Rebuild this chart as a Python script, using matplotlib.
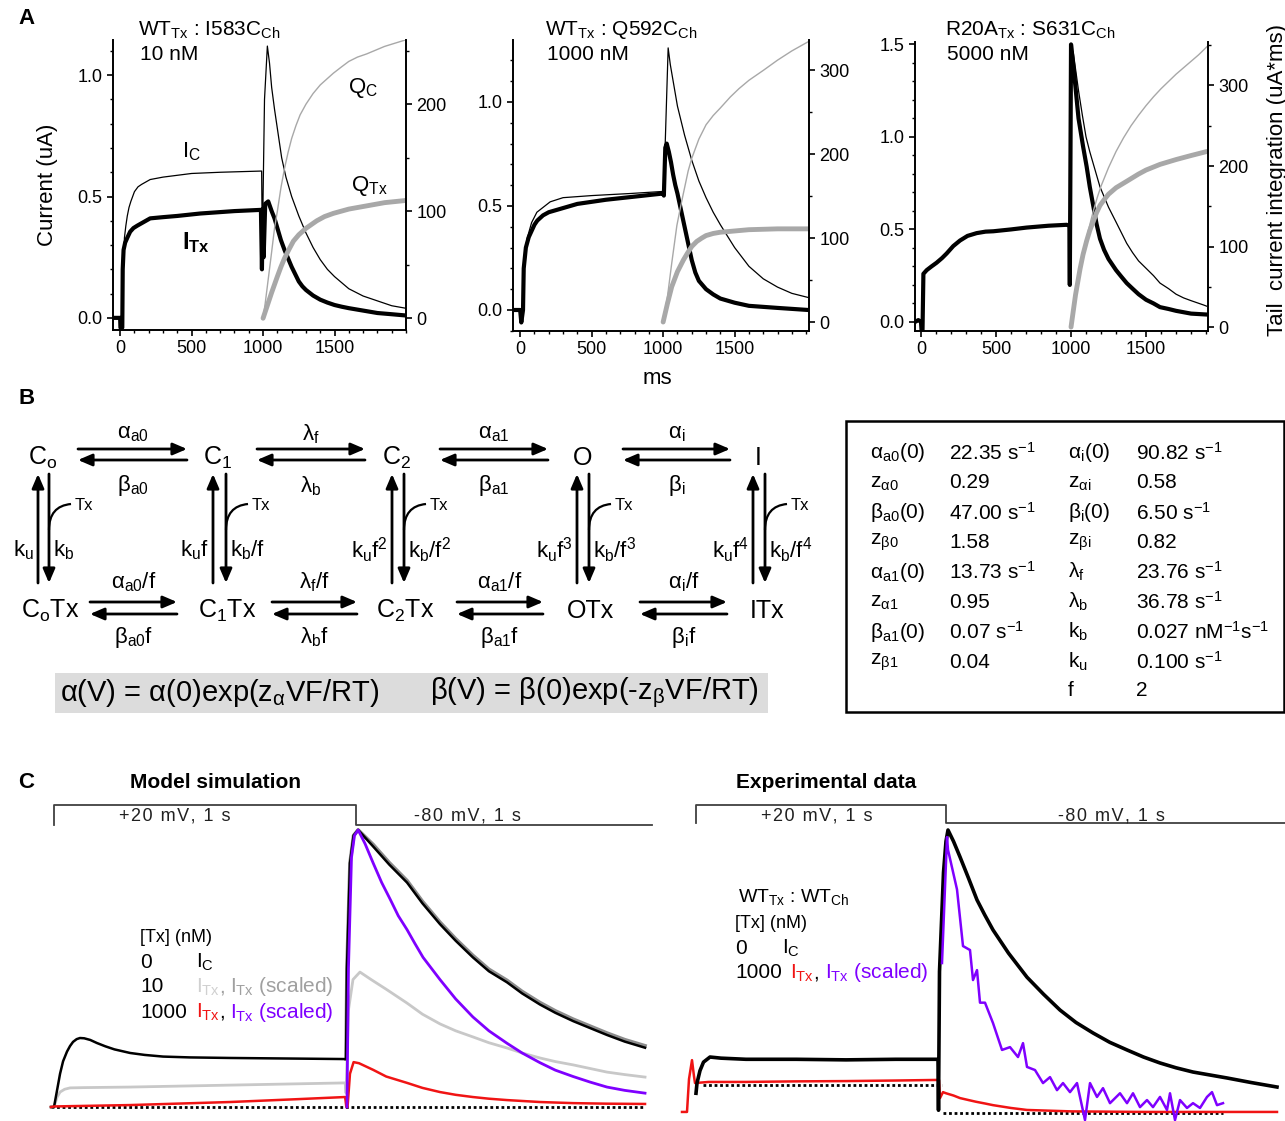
import matplotlib
matplotlib.use('Agg')
import matplotlib.pyplot as plt
from matplotlib.patches import Rectangle, PathPatch
from matplotlib.path import Path
from matplotlib.ticker import MultipleLocator, FormatStrFormatter

plt.rcParams['font.family'] = ['Liberation Sans', 'DejaVu Sans']
plt.rcParams['mathtext.fontset'] = 'custom'
plt.rcParams['mathtext.rm'] = 'Liberation Sans'
plt.rcParams['mathtext.it'] = 'Liberation Sans'
plt.rcParams['mathtext.bf'] = 'Liberation Sans:bold'
plt.rcParams['mathtext.default'] = 'regular'

# ---------------- panel A data: time (ms), current (uA), charge (uA*ms) ----
a1_ic_t = [-45, 0, 18, 22, 30, 40, 50, 62, 75, 100, 125, 150, 210, 300, 500, 700, 990, 996, 1000,
           1010, 1030, 1045, 1060, 1080, 1100, 1130, 1160, 1200, 1250, 1300, 1350, 1400, 1450,
           1500, 1550, 1600, 1650, 1700, 1750, 1800, 1900, 1995]
a1_ic_v = [0.0, 0.0, 0.0, 0.2, 0.33, 0.38, 0.42, 0.455, 0.48, 0.52, 0.54, 0.55, 0.57, 0.58, 0.595,
           0.6, 0.605, 0.2, 0.5, 0.9, 1.12, 1.05, 0.95, 0.86, 0.78, 0.66, 0.58, 0.5, 0.42, 0.35,
           0.29, 0.24, 0.2, 0.17, 0.145, 0.12, 0.105, 0.09, 0.08, 0.07, 0.05, 0.04]
a1_itx_t = [-45, 0, 2, 15, 18, 24, 35, 50, 70, 93, 120, 150, 210, 300, 400, 560, 800, 985, 992,
            998, 1004, 1015, 1036, 1060, 1080, 1100, 1125, 1150, 1175, 1200, 1225, 1250, 1275,
            1300, 1350, 1400, 1450, 1500, 1550, 1600, 1700, 1800, 1900, 1995]
a1_itx_v = [0.0, 0.0, -0.04, -0.04, 0.2, 0.28, 0.31, 0.33, 0.355, 0.37, 0.38, 0.39, 0.41, 0.415,
            0.42, 0.43, 0.44, 0.445, 0.2, 0.45, 0.25, 0.47, 0.48, 0.44, 0.41, 0.37, 0.32, 0.28,
            0.245, 0.21, 0.18, 0.15, 0.13, 0.115, 0.092, 0.075, 0.063, 0.053, 0.046, 0.04, 0.03,
            0.02, 0.015, 0.01]
a1_qc_t = [1000, 1015, 1030, 1045, 1060, 1080, 1100, 1125, 1150, 1175, 1200, 1230, 1259, 1300,
           1350, 1400, 1450, 1492, 1550, 1600, 1660, 1725, 1850, 1995]
a1_qc_v = [0, 14, 30, 46, 62, 84, 100, 122, 140, 155, 168, 180, 190, 200, 210, 218, 224, 229, 235,
           240, 244, 247, 254, 260]
a1_qtx_t = [1000, 1030, 1060, 1100, 1125, 1150, 1180, 1212, 1250, 1300, 1375, 1430, 1492, 1600,
            1725, 1850, 1995]
a1_qtx_v = [0, 12, 24, 39, 48, 56, 64, 72, 78, 84, 91, 95, 98, 102, 105, 108, 110]

a2_ic_t = [-45, 0, 8, 20, 30, 47, 80, 117, 210, 300, 500, 770, 1000, 1010, 1035, 1050, 1070, 1100,
           1125, 1150, 1175, 1200, 1250, 1300, 1350, 1400, 1450, 1500, 1550, 1600, 1650, 1700,
           1750, 1800, 1900, 2015]
a2_ic_v = [0.0, 0.0, -0.05, 0.0, 0.25, 0.34, 0.42, 0.47, 0.52, 0.54, 0.55, 0.56, 0.57, 0.7, 1.26,
           1.18, 1.1, 0.98, 0.91, 0.84, 0.78, 0.72, 0.62, 0.54, 0.47, 0.41, 0.355, 0.3, 0.255,
           0.21, 0.18, 0.15, 0.13, 0.11, 0.08, 0.06]
a2_itx_t = [-45, 0, 8, 20, 25, 40, 60, 80, 100, 120, 160, 200, 300, 400, 600, 800, 1000, 1005,
            1015, 1025, 1040, 1055, 1070, 1085, 1100, 1125, 1150, 1175, 1200, 1225, 1250, 1275,
            1300, 1350, 1400, 1500, 1600, 1800, 2015]
a2_itx_v = [0.0, 0.0, -0.06, 0.0, 0.2, 0.3, 0.35, 0.38, 0.41, 0.43, 0.455, 0.47, 0.49, 0.51, 0.53,
            0.545, 0.56, 0.55, 0.78, 0.8, 0.76, 0.71, 0.65, 0.6, 0.56, 0.48, 0.4, 0.32, 0.24,
            0.18, 0.14, 0.12, 0.1, 0.075, 0.055, 0.035, 0.02, 0.01, 0.0]
a2_qc_t = [1000, 1030, 1060, 1096, 1125, 1150, 1175, 1200, 1250, 1300, 1350, 1400, 1469, 1530,
           1600, 1702, 1800, 1900, 2015]
a2_qc_v = [0, 30, 70, 115, 140, 160, 180, 195, 218, 235, 246, 255, 268, 278, 288, 300, 312, 323, 334]
a2_qtx_t = [1000, 1030, 1060, 1100, 1142, 1170, 1200, 1235, 1270, 1300, 1350, 1400, 1469, 1600,
            1800, 2015]
a2_qtx_v = [0, 22, 42, 60, 74, 82, 90, 96, 100, 103, 105.5, 107, 108, 110, 111, 111]

a3_itx_t = [-40, -18, 0, 4, 10, 16, 38, 70, 104, 140, 171, 215, 260, 310, 371, 430, 482, 600, 704,
            850, 971, 989, 992, 1000, 1020, 1050, 1080, 1104, 1125, 1150, 1170, 1193, 1220, 1250,
            1275, 1300, 1335, 1371, 1410, 1450, 1500, 1550, 1593, 1650, 1700, 1800, 1905]
a3_itx_v = [0.0, 0.01, 0.0, -0.05, -0.05, 0.26, 0.28, 0.3, 0.32, 0.345, 0.37, 0.41, 0.44, 0.465,
            0.48, 0.488, 0.49, 0.5, 0.51, 0.52, 0.525, 0.52, 0.2, 1.5, 1.35, 1.1, 0.95, 0.84, 0.73,
            0.62, 0.53, 0.45, 0.39, 0.34, 0.31, 0.28, 0.245, 0.21, 0.18, 0.15, 0.12, 0.1, 0.08,
            0.07, 0.06, 0.045, 0.04]
a3_ic_t = [989, 1005, 1016, 1050, 1075, 1100, 1125, 1150, 1193, 1250, 1300, 1371, 1410, 1450,
           1500, 1550, 1593, 1650, 1700, 1750, 1800, 1882, 1905]
a3_ic_v = [0.52, 1.4, 1.45, 1.25, 1.12, 1.0, 0.92, 0.85, 0.73, 0.62, 0.54, 0.425, 0.375, 0.33,
           0.29, 0.25, 0.21, 0.18, 0.15, 0.13, 0.115, 0.092, 0.085]
a3_qc_t = [1000, 1025, 1050, 1075, 1100, 1125, 1150, 1175, 1200, 1250, 1300, 1350, 1400, 1450,
           1500, 1550, 1600, 1650, 1700, 1750, 1800, 1850, 1905]
a3_qc_v = [0, 32, 62, 86, 108, 127, 145, 161, 175, 198, 218, 235, 250, 263, 275, 286, 296, 305,
           314, 322, 330, 338, 348]
a3_qtx_t = [1000, 1030, 1060, 1080, 1104, 1125, 1150, 1170, 1193, 1220, 1250, 1300, 1371, 1450,
            1500, 1593, 1700, 1800, 1905]
a3_qtx_v = [0, 40, 72, 90, 107, 120, 132, 142, 151, 158, 165, 173, 181, 190, 195, 202, 208, 213, 218]

a_titles = ['WT$_{Tx}$ : I583C$_{Ch}$', 'WT$_{Tx}$ : Q592C$_{Ch}$', 'R20A$_{Tx}$ : S631C$_{Ch}$']
a_conc = ['10 nM', '1000 nM', '5000 nM']

# ---------------- panel B: model parameters ----
tab_left_names = ['α$_{a0}$(0)', 'z$_{α0}$', 'β$_{a0}$(0)', 'z$_{β0}$', 'α$_{a1}$(0)', 'z$_{α1}$',
                  'β$_{a1}$(0)', 'z$_{β1}$']
tab_left_vals = ['22.35 s$^{-1}$', '0.29', '47.00 s$^{-1}$', '1.58', '13.73 s$^{-1}$', '0.95',
                 '0.07 s$^{-1}$', '0.04']
tab_right_names = ['α$_i$(0)', 'z$_{αi}$', 'β$_i$(0)', 'z$_{βi}$', 'λ$_f$', 'λ$_b$', 'k$_b$',
                   'k$_u$', 'f']
tab_right_vals = ['90.82 s$^{-1}$', '0.58', '6.50 s$^{-1}$', '0.82', '23.76 s$^{-1}$',
                  '36.78 s$^{-1}$', '0.027 nM$^{-1}$s$^{-1}$', '0.100 s$^{-1}$', '2']

states_top = ['C$_o$', 'C$_1$', 'C$_2$', 'O', 'I']
states_bot = ['C$_o$Tx', 'C$_1$Tx', 'C$_2$Tx', 'OTx', 'ITx']
rates_top_fwd = ['α$_{a0}$', 'λ$_f$', 'α$_{a1}$', 'α$_i$']
rates_top_bwd = ['β$_{a0}$', 'λ$_b$', 'β$_{a1}$', 'β$_i$']
rates_bot_fwd = ['α$_{a0}$/f', 'λ$_f$/f', 'α$_{a1}$/f', 'α$_i$/f']
rates_bot_bwd = ['β$_{a0}$f', 'λ$_b$f', 'β$_{a1}$f', 'β$_i$f']
rates_unbind = ['k$_u$', 'k$_u$f', 'k$_u$f$^2$', 'k$_u$f$^3$', 'k$_u$f$^4$']
rates_bind = ['k$_b$', 'k$_b$/f', 'k$_b$/f$^2$', 'k$_b$/f$^3$', 'k$_b$/f$^4$']

# ---------------- panel C data: time (ms), normalised current ----
sim_ic_t = [-10, 0, 10, 20, 30, 43, 53, 63, 75, 86, 100, 120, 142, 170, 200, 252, 300, 361, 450,
            583, 967, 970, 980, 992, 1007, 1057, 1110, 1169, 1220, 1278, 1330, 1387, 1440, 1500,
            1550, 1609, 1660, 1719, 1775, 1831, 1890, 1957]
sim_ic_v = [0.0, 0.0, 0.06, 0.12, 0.165, 0.2, 0.22, 0.235, 0.245, 0.249, 0.248, 0.242, 0.231,
            0.219, 0.208, 0.195, 0.188, 0.182, 0.179, 0.177, 0.173, 0.5, 0.88, 0.98, 1.0, 0.94,
            0.875, 0.81, 0.735, 0.66, 0.6, 0.54, 0.49, 0.45, 0.41, 0.37, 0.34, 0.31, 0.285, 0.26,
            0.236, 0.214]
sim_10s_t = [967, 970, 980, 992, 1007, 1057, 1110, 1169, 1220, 1278, 1330, 1387, 1440, 1500, 1550,
             1609, 1660, 1719, 1775, 1831, 1890, 1957]
sim_10s_v = [0.173, 0.5, 0.88, 0.98, 1.0, 0.947, 0.882, 0.817, 0.742, 0.667, 0.607, 0.547, 0.497,
             0.457, 0.417, 0.377, 0.347, 0.317, 0.292, 0.267, 0.243, 0.221]
sim_10_t = [-10, 0, 10, 20, 35, 53, 100, 252, 583, 964, 967, 975, 990, 1013, 1050, 1100, 1169,
            1220, 1278, 1330, 1387, 1440, 1500, 1550, 1609, 1660, 1719, 1775, 1831, 1890, 1957]
sim_10_v = [0.0, 0.0, 0.035, 0.054, 0.064, 0.069, 0.07, 0.072, 0.079, 0.087, 0.05, 0.35, 0.46,
            0.487, 0.46, 0.425, 0.375, 0.335, 0.30, 0.275, 0.253, 0.232, 0.213, 0.195, 0.177,
            0.164, 0.152, 0.139, 0.126, 0.117, 0.108]
sim_1000_t = [-10, 0, 252, 583, 800, 964, 968, 972, 980, 992, 1010, 1057, 1100, 1169, 1220, 1278,
              1330, 1387, 1440, 1500, 1609, 1719, 1831, 1957]
sim_1000_v = [0.0, 0.002, 0.007, 0.018, 0.028, 0.036, 0.0, 0.0, 0.12, 0.162, 0.158, 0.134, 0.11,
              0.087, 0.069, 0.054, 0.044, 0.036, 0.03, 0.025, 0.018, 0.014, 0.012, 0.011]
sim_1000s_t = [970, 975, 985, 995, 1007, 1030, 1057, 1085, 1113, 1140, 1169, 1195, 1222, 1250,
               1278, 1330, 1387, 1440, 1500, 1550, 1609, 1660, 1719, 1775, 1831, 1890, 1957]
sim_1000s_v = [0.0, 0.5, 0.9, 0.98, 1.0, 0.95, 0.88, 0.81, 0.75, 0.69, 0.64, 0.59, 0.54, 0.5,
               0.46, 0.39, 0.325, 0.275, 0.23, 0.195, 0.16, 0.133, 0.11, 0.09, 0.072, 0.06, 0.05]
sim_base_t = [-10, 1957]

exp_ic_t = [0, 4, 16, 30, 56, 100, 200, 400, 600, 800, 968, 970, 974, 990, 1000, 1008, 1030, 1056,
            1090, 1124, 1155, 1188, 1250, 1324, 1390, 1456, 1520, 1588, 1655, 1724, 1790, 1856,
            1920, 1988, 2124, 2220, 2324]
exp_ic_v = [0.07, 0.106, 0.15, 0.18, 0.198, 0.194, 0.19, 0.19, 0.188, 0.19, 0.19, 0.01, 0.5,
            0.85, 0.96, 1.0, 0.96, 0.905, 0.83, 0.753, 0.7, 0.647, 0.565, 0.48, 0.42, 0.364, 0.32,
            0.283, 0.25, 0.223, 0.198, 0.177, 0.16, 0.145, 0.124, 0.108, 0.092]
exp_1000_t = [-56, -36, -28, -16, -8, -4, 50, 200, 400, 600, 800, 960, 972, 976, 988, 1000, 1030,
              1056, 1090, 1120, 1155, 1188, 1260, 1324, 1500, 1800, 2100, 2324]
exp_1000_v = [0.004, 0.004, 0.12, 0.187, 0.13, 0.106, 0.11, 0.11, 0.112, 0.113, 0.115, 0.117,
              0.117, 0.053, 0.074, 0.07, 0.062, 0.053, 0.046, 0.04, 0.034, 0.028, 0.018, 0.011,
              0.006, 0.004, 0.004, 0.004]
exp_1000s_t = [984, 1004, 1008, 1044, 1056, 1068, 1096, 1108, 1124, 1136, 1156, 1188, 1224, 1256,
               1288, 1308, 1324, 1356, 1388, 1416, 1444, 1468, 1496, 1524, 1556, 1576, 1604,
               1628, 1656, 1696, 1724, 1748, 1776, 1804, 1828, 1856, 1884, 1896, 1916, 1936,
               1964, 1988, 2016, 2044, 2064, 2084, 2108]
exp_1000s_v = [0.53, 0.975, 0.93, 0.79, 0.69, 0.59, 0.576, 0.47, 0.505, 0.39, 0.39, 0.318, 0.223,
               0.233, 0.198, 0.247, 0.163, 0.152, 0.106, 0.127, 0.081, 0.106, 0.074, 0.106,
               -0.025, 0.106, 0.057, 0.088, 0.035, 0.07, 0.035, 0.07, 0.021, 0.046, 0.021, 0.057,
               0.011, 0.07, -0.025, 0.046, 0.018, 0.035, 0.018, 0.057, 0.074, 0.028, 0.035]
exp_pre_t, exp_pre_level = [28, 984], 0.099
exp_post_t = [988, 2108]

prot_sim_t = [0, 0, 1000, 1000, 1980]
prot_exp_t = [0, 0, 1000, 1000, 2360]
prot_mv = [-80, 20, 20, -80, -80]

# ---------------- figure ----
W, H = 1285, 1121
fig = plt.figure(figsize=(W / 100, H / 100), dpi=100)


def px_axes(x0, y0, x1, y1):
    return fig.add_axes([x0 / W, 1 - y1 / H, (x1 - x0) / W, (y1 - y0) / H])


GRAY = '#a8a8a8'


def trace_panel(box, xlim, ylim, ylim2, ymaj, ymaj2, ic, itx, qc, qtx):
    ax = px_axes(*box)
    ax.plot(ic[0], ic[1], color='k', lw=0.9)
    ax.plot(itx[0], itx[1], color='k', lw=3)
    ax.set_xlim(xlim)
    ax.set_ylim(ylim)
    ax.set_xticks([0, 500, 1000, 1500])
    ax.xaxis.set_minor_locator(MultipleLocator(100))
    ax.set_yticks(ymaj)
    ax.yaxis.set_minor_locator(MultipleLocator(0.1))
    ax.yaxis.set_major_formatter(FormatStrFormatter('%.1f'))
    ax2 = ax.twinx()
    ax2.plot(qc[0], qc[1], color=GRAY, lw=1.0)
    ax2.plot(qtx[0], qtx[1], color=GRAY, lw=3.5, solid_capstyle='round')
    ax2.set_ylim(ylim2)
    ax2.set_yticks(ymaj2)
    ax2.yaxis.set_minor_locator(MultipleLocator(50))
    for a in (ax, ax2):
        a.spines['top'].set_visible(False)
        for s in a.spines.values():
            s.set_linewidth(1.4)
        a.tick_params(which='major', direction='out', length=4, width=1.2, labelsize=13)
        a.tick_params(which='minor', direction='out', length=2.5, width=1.0)
    ax.spines['right'].set_visible(False)
    ax2.spines['left'].set_visible(False)
    ax2.spines['bottom'].set_visible(False)
    return ax


trace_panel((113, 40, 406, 330), (-50, 2000), (-0.05, 1.145), (-11, 260), [0, 0.5, 1.0],
            [0, 100, 200], (a1_ic_t, a1_ic_v), (a1_itx_t, a1_itx_v), (a1_qc_t, a1_qc_v),
            (a1_qtx_t, a1_qtx_v))
trace_panel((513, 40, 809, 331), (-50, 2020), (-0.101, 1.298), (-10.7, 336), [0, 0.5, 1.0],
            [0, 100, 200, 300], (a2_ic_t, a2_ic_v), (a2_itx_t, a2_itx_v), (a2_qc_t, a2_qc_v),
            (a2_qtx_t, a2_qtx_v))
trace_panel((915, 42, 1208, 331), (-40, 1913), (-0.049, 1.513), (-4.9, 354), [0, 0.5, 1.0, 1.5],
            [0, 100, 200, 300], (a3_ic_t, a3_ic_v), (a3_itx_t, a3_itx_v), (a3_qc_t, a3_qc_v),
            (a3_qtx_t, a3_qtx_v))

# ---------------- panel C traces ----
sim = px_axes(40, 800, 660, 1121)
sim.plot(sim_base_t, [0, 0], color='k', lw=2, linestyle=(0, (1, 1)))
sim.plot(sim_10_t, sim_10_v, color='#c8c8c8', lw=2)
sim.plot(sim_10s_t, sim_10s_v, color='#8c8c8c', lw=2.6)
sim.plot(sim_ic_t, sim_ic_v, color='k', lw=1.8)
sim.plot(sim_1000_t, sim_1000_v, color='#f01414', lw=1.8)
sim.plot(sim_1000s_t, sim_1000s_v, color='#7f00ff', lw=2)
sim.set_xlim(-46.4, 2006.6)
sim.set_ylim(-0.0505, 1.108)
sim.axis('off')

exp = px_axes(670, 800, 1285, 1121)
exp.plot(exp_pre_t, [exp_pre_level] * 2, color='k', lw=2, linestyle=(0, (1, 1)))
exp.plot(exp_post_t, [0, 0], color='k', lw=2, linestyle=(0, (1, 1)))
exp.plot(exp_1000_t, exp_1000_v, color='#f01414', lw=1.8)
exp.plot(exp_ic_t, exp_ic_v, color='k', lw=2.6)
exp.plot(exp_1000s_t, exp_1000s_v, color='#7f00ff', lw=1.8)
exp.set_xlim(-104, 2356)
exp.set_ylim(-0.028, 1.106)
exp.axis('off')

for box, t, xl, yl in [((40, 798, 660, 832), prot_sim_t, (-46.4, 2006.6), (-115, 55)),
                       ((670, 798, 1285, 832), prot_exp_t, (-104, 2356), (-130, 58.9))]:
    pa = px_axes(*box)
    pa.plot(t, prot_mv, color='#404040', lw=1.3)
    pa.set_xlim(xl)
    pa.set_ylim(yl)
    pa.axis('off')

# ---------------- overlay for text and scheme (pixel coordinates) ----
ov = fig.add_axes([0, 0, 1, 1], zorder=10)
ov.set_xlim(0, W)
ov.set_ylim(H, 0)
ov.axis('off')
ov.patch.set_visible(False)


def txt(x, y, s, size=15, ha='left', va='center', **kw):
    ov.text(x, y, s, fontsize=size, ha=ha, va=va, **kw)


# panel letters
txt(18, 18, 'A', 16, weight='bold')
txt(18, 398, 'B', 16, weight='bold')
txt(18, 783, 'C', 16, weight='bold')

# panel A annotations
for x, title, conc in zip([138, 545, 945], a_titles, a_conc):
    txt(x, 30, title, 15)
    txt(x + 2, 54, conc, 15)
txt(47, 185, 'Current (uA)', 16, ha='center', rotation=90)
txt(1277, 180, 'Tail  current integration (uA*ms)', 16, ha='center', rotation=90)
txt(657, 378, 'ms', 16, ha='center')
txt(182, 152, 'I$_C$', 16)
txt(348, 88, 'Q$_C$', 16)
txt(351, 186, 'Q$_{Tx}$', 16)
txt(182, 243, r'$\mathbf{I_{Tx}}$', 17)

# panel B scheme
top_x = [43, 218, 397, 583, 758]
bot_x = [50, 227, 405, 590, 767]
up_x = [38, 213, 392, 577, 753]
down_x = [49, 226, 404, 589, 765]
h_top = [(78, 187), (257, 365), (440, 548), (623, 730)]
h_bot = [(90, 177), (272, 357), (457, 543), (640, 727)]


def arrow(x0, y0, x1, y1):
    ov.annotate('', xy=(x1, y1), xytext=(x0, y0),
                arrowprops=dict(arrowstyle='-|>,head_length=0.7,head_width=0.3', color='k',
                                lw=2, shrinkA=0, shrinkB=0, mutation_scale=12))


for x, s in zip(top_x, states_top):
    txt(x, 458, s, 18, ha='center')
for x, s in zip(bot_x, states_bot):
    txt(x, 611, s, 18, ha='center')
for (x0, x1), f, b in zip(h_top, rates_top_fwd, rates_top_bwd):
    arrow(x0, 449, x1, 449)
    arrow(x1, 460, x0, 460)
    txt((x0 + x1) / 2, 434, f, 16, ha='center')
    txt((x0 + x1) / 2, 486, b, 16, ha='center')
for (x0, x1), f, b in zip(h_bot, rates_bot_fwd, rates_bot_bwd):
    arrow(x0, 602, x1, 602)
    arrow(x1, 614, x0, 614)
    txt((x0 + x1) / 2, 582, f, 16, ha='center')
    txt((x0 + x1) / 2, 637, b, 16, ha='center')
for xu, xd, ku, kb in zip(up_x, down_x, rates_unbind, rates_bind):
    arrow(xu, 583, xu, 474)
    arrow(xd, 474, xd, 583)
    txt(xu - 4, 550, ku, 16, ha='right')
    txt(xd + 4, 550, kb, 16)
    curve = Path([(xd, 530), (xd, 506), (xd + 22, 504)],
                 [Path.MOVETO, Path.CURVE3, Path.CURVE3])
    ov.add_patch(PathPatch(curve, fill=False, lw=1.6, color='k'))
    txt(xd + 26, 506, 'Tx', 12)

ov.add_patch(Rectangle((55, 673), 713, 40, color='#dcdcdc', lw=0))
txt(60, 693, 'α(V) = α(0)exp(z$_α$VF/RT)', 21)
txt(430, 693, 'β(V) = β(0)exp(-z$_β$VF/RT)', 21)

# parameter table
ov.add_patch(Rectangle((846, 421), 438, 291, fill=False, lw=1.8, color='k'))
row_y = [453, 483, 513, 542, 572, 602, 632, 662, 690]
for y, n, v in zip(row_y, tab_left_names, tab_left_vals):
    txt(870, y, n, 15)
    txt(949, y, v, 15)
for y, n, v in zip(row_y, tab_right_names, tab_right_vals):
    txt(1068, y, n, 15)
    txt(1136, y, v, 15)

# panel C labels
txt(215, 782, 'Model simulation', 15, ha='center', weight='bold')
txt(826, 782, 'Experimental data', 15, ha='center', weight='bold')
for x, s in [(175, '+20 mV, 1 s'), (467, '-80 mV, 1 s'), (817, '+20 mV, 1 s'),
             (1111, '-80 mV, 1 s')]:
    txt(x, 816, '\u200a'.join(s), 13, ha='center', color='#202020')

txt(140, 938, '[Tx] (nM)', 13)
txt(140, 962, '0', 15)
txt(196, 962, 'I$_C$', 15)
txt(140, 987, '10', 15)
txt(196, 987, 'I$_{Tx}$', 15, color='#d0d0d0')
txt(219, 987, ',', 15, color='#a0a0a0')
txt(230, 987, 'I$_{Tx}$ (scaled)', 15, color='#a0a0a0')
txt(140, 1012, '1000', 15)
txt(196, 1012, 'I$_{Tx}$', 15, color='#f01414')
txt(219, 1012, ',', 15)
txt(230, 1012, 'I$_{Tx}$ (scaled)', 15, color='#7f00ff')

txt(738, 897, 'WT$_{Tx}$ : WT$_{Ch}$', 14)
txt(735, 923, '[Tx] (nM)', 13)
txt(735, 948, '0', 15)
txt(782, 948, 'I$_C$', 15)
txt(735, 973, '1000', 15)
txt(790, 973, 'I$_{Tx}$', 15, color='#f01414')
txt(813, 973, ',', 15)
txt(825, 973, 'I$_{Tx}$ (scaled)', 15, color='#7f00ff')

fig.savefig('out.png', dpi=100)
